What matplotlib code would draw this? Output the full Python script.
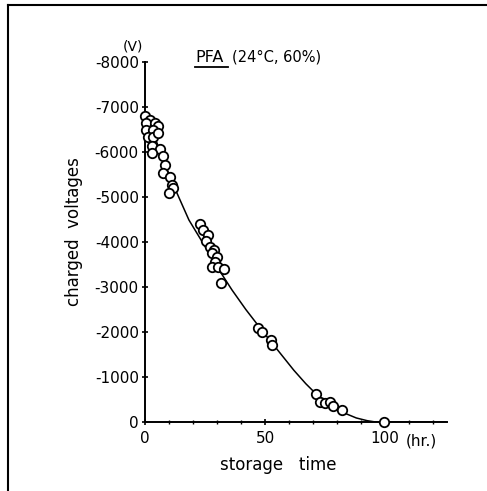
import matplotlib
matplotlib.use("Agg")
import matplotlib.pyplot as plt
from matplotlib.lines import Line2D

# measured data (storage time in hr, charged voltage in V)
time_hr = [0, 2.1, 0.4, 4.2, 5.4, 0.4, 3.3, 1.3, 3.3, 5.4, 2.9, 6.3, 2.9, 7.5, 8.3, 7.5, 10.4, 11.3, 11.7, 10.0,
           22.9, 24.2, 26.3, 25.4, 27.1, 28.8, 27.9, 30.0, 29.2, 27.9, 30.4, 32.9, 31.7,
           47.1, 48.8, 52.5, 52.9,
           71.3, 72.9, 75.0, 77.1, 78.3, 82.1, 99.6]
voltage = [-6800, -6711, -6644, -6644, -6578, -6489, -6489, -6333, -6333, -6422, -6133, -6067, -5978, -5911, -5711,
           -5533, -5444, -5267, -5200, -5089,
           -4400, -4267, -4156, -4022, -3889, -3822, -3756, -3667, -3556, -3444, -3444, -3400, -3089,
           -2089, -2000, -1822, -1711,
           -622, -444, -422, -444, -356, -267, 0]

# fitted curve
curve_t = [0, 5, 10, 13.3, 18.3, 25, 30, 36.25, 42, 48.8, 56.25, 62, 67, 71.3, 76, 80, 84, 88, 92.5, 96, 125]
curve_v = [-6850, -6200, -5500, -5089, -4489, -3900, -3450, -2933, -2500, -2030, -1533, -1150, -850, -622,
           -420, -280, -178, -90, -30, 0, 0]

yticks = [0, -1000, -2000, -3000, -4000, -5000, -6000, -7000, -8000]
ytick_labels = ["0", "-1000", "-2000", "-3000", "-4000", "-5000", "-6000", "-7000", "-8000"]
xticks = [0, 50, 100]
xtick_labels = ["0", "50", "100"]

W, H = 487, 491
fig = plt.figure(figsize=(W / 100, H / 100), dpi=100)
ax = fig.add_axes([145 / W, 1 - 422 / H, (447 - 145) / W, (422 - 62) / H])

ax.plot(curve_t, curve_v, color="black", lw=1.1, zorder=2)
ax.plot(time_hr, voltage, "o", ms=6.8, mfc="white", mec="black", mew=1.3, zorder=3, clip_on=False)

ax.set_xlim(0, 125.8)
ax.set_ylim(0, -8000)
for s in ["top", "right"]:
    ax.spines[s].set_visible(False)
for s in ["left", "bottom"]:
    ax.spines[s].set_linewidth(1.4)

ax.set_yticks(yticks)
ax.set_yticklabels(ytick_labels, fontsize=11)
ax.set_xticks(xticks)
ax.set_xticklabels(xtick_labels, fontsize=11)
ax.set_xticks(list(range(0, 121, 10)), minor=True)
ax.tick_params(axis="both", which="major", direction="inout", length=5, width=1.2, pad=2)
ax.tick_params(axis="x", which="major", pad=4)
ax.tick_params(axis="x", which="minor", direction="inout", length=3, width=1)

ax.set_xlabel("storage   time", fontsize=12)
ax.set_ylabel("charged  voltages", fontsize=12)
ax.xaxis.set_label_coords((278 - 145) / 302, (422 - 456) / 360)
ax.yaxis.set_label_coords((83 - 145) / 302, (422 - 232) / 360)

fig.text(133 / W, 1 - 46 / H, "(V)", fontsize=10, ha="center", va="center")
fig.text(406 / W, 1 - 441 / H, "(hr.)", fontsize=11, ha="left", va="center")
fig.text(195 / W, 1 - 57 / H, "PFA", fontsize=11.5, ha="left", va="center")
fig.text(232 / W, 1 - 57 / H, "(24°C, 60%)", fontsize=10.5, ha="left", va="center")
fig.add_artist(Line2D([195 / W, 228 / W], [1 - 67 / H, 1 - 67 / H], color="black", lw=1.3))

# page frame (left and top)
fig.add_artist(Line2D([8 / W, 8 / W], [0, 1 - 5 / H], color="black", lw=1.5))
fig.add_artist(Line2D([8 / W, 1], [1 - 5 / H, 1 - 5 / H], color="black", lw=1.5))

fig.savefig("out.png", dpi=100)
